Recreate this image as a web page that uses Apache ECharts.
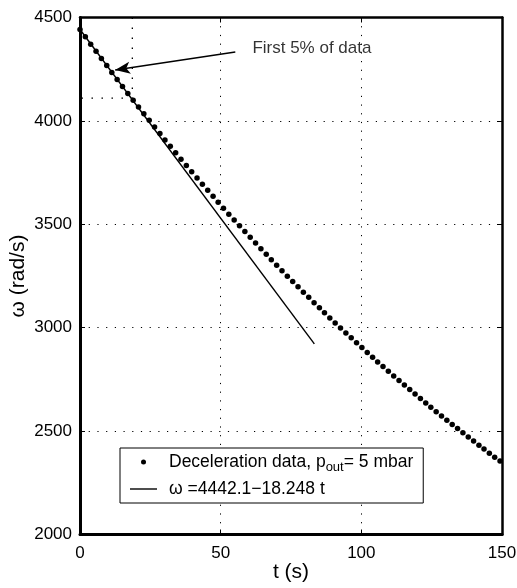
<!DOCTYPE html>
<html>
<head>
<meta charset="utf-8">
<script src="https://cdn.jsdelivr.net/npm/echarts@6/dist/echarts.min.js"></script>
<style>html,body{margin:0;padding:0;background:#fff}#c{width:517px;height:588px}</style>
</head>
<body>
<div id="c"></div>
<script>
// Deceleration data (time in s, omega in rad/s)
var times = [0,1.9,3.8,5.7,7.6,9.5,11.3,13.2,15.1,17.0,18.9,20.8,22.7,24.6,26.5,28.4,30.2,32.1,34.0,35.9,37.8,39.7,41.6,43.5,45.4,47.3,49.1,51.0,52.9,54.8,56.7,58.6,60.5,62.4,64.3,66.2,68.0,69.9,71.8,73.7,75.6,77.5,79.4,81.3,83.2,85.1,86.9,88.8,90.7,92.6,94.5,96.4,98.3,100.2,102.1,104.0,105.8,107.7,109.6,111.5,113.4,115.3,117.2,119.1,121.0,122.9,124.7,126.6,128.5,130.4,132.3,134.2,136.1,138.0,139.9,141.8,143.6,145.5,147.4,149.3];
var omega = [4442,4407,4371,4337,4302,4268,4234,4200,4166,4133,4100,4067,4035,4003,3971,3939,3908,3877,3846,3815,3784,3754,3724,3694,3665,3636,3607,3578,3549,3521,3493,3465,3437,3410,3382,3355,3329,3302,3275,3249,3223,3198,3172,3147,3121,3096,3072,3047,3023,2998,2974,2951,2927,2904,2880,2857,2834,2812,2789,2767,2745,2723,2701,2679,2658,2636,2615,2594,2573,2553,2532,2512,2492,2472,2452,2432,2413,2393,2374,2355];
// Linear fit  omega = 4442.1 - 18.248 t, drawn from t=0 to t=83.3
var fitT = [0, 83.3];
var fitW = [4442.1, 2922.0];
// "First 5%" marker lines
var markT = [18.6, 18.6, 0];
var markW = [4500, 4110, 4110];
// annotation arrow (tail, head) and text anchor
var arrowT = [55.2, 12.5];
var arrowW = [4333, 4246];
var noteT = [59.5];
var noteW = [4353];
var noteText = 'First 5% of data';
// axes
var xTicks = [0, 50, 100, 150];
var yTicks = [2000, 2500, 3000, 3500, 4000, 4500];
var nameData = 'Deceleration data, p_out = 5 mbar';
var nameFit = 'ω =4442.1\u221218.248 t';

function zip(a, b) { return a.map(function (v, i) { return [v, b[i]]; }); }
function plain(v) { return String(v); }

var FONT = '"Liberation Sans", Arial, Helvetica, sans-serif';
var gridLine = { show: true, lineStyle: { color: '#000', width: 1, type: [1.2, 7.5] } };

var chart = echarts.init(document.getElementById('c'), null, { renderer: 'canvas' });
chart.setOption({
  animation: false,
  backgroundColor: '#fff',
  textStyle: { fontFamily: FONT, color: '#000' },
  grid: { left: 80, right: 15, top: 17.5, bottom: 53.5, containLabel: false, outerBoundsMode: 'none' },
  xAxis: [{
    type: 'value', min: xTicks[0], max: xTicks[xTicks.length - 1], interval: 50,
    name: 't (s)', nameLocation: 'middle', nameGap: 27, nameMoveOverlap: false,
    nameTextStyle: { fontSize: 21, fontFamily: FONT, color: '#000', verticalAlign: 'top' },
    axisLine: { show: true, onZero: false, lineStyle: { color: '#000', width: 3 } },
    axisTick: { show: true, inside: true, length: 5, lineStyle: { color: '#000', width: 1 } },
    axisLabel: { fontSize: 17, color: '#000', fontFamily: FONT, margin: 10, formatter: plain },
    splitLine: gridLine
  }, {
    type: 'value', position: 'top', min: xTicks[0], max: xTicks[xTicks.length - 1], interval: 50,
    axisLine: { show: true, onZero: false, lineStyle: { color: '#000', width: 2.5 } },
    axisTick: { show: true, inside: true, length: 5, lineStyle: { color: '#000', width: 1 } },
    axisLabel: { show: false }, splitLine: { show: false }
  }],
  yAxis: [{
    type: 'value', min: yTicks[0], max: yTicks[yTicks.length - 1], interval: 500,
    name: 'ω (rad/s)', nameLocation: 'middle', nameGap: 51, nameMoveOverlap: false,
    nameTextStyle: { fontSize: 21, fontFamily: FONT, color: '#000' },
    axisLine: { show: true, onZero: false, lineStyle: { color: '#000', width: 3 } },
    axisTick: { show: true, inside: true, length: 5, lineStyle: { color: '#000', width: 1 } },
    axisLabel: { fontSize: 17, color: '#000', fontFamily: FONT, margin: 8, formatter: plain },
    splitLine: gridLine
  }, {
    type: 'value', position: 'right', min: yTicks[0], max: yTicks[yTicks.length - 1], interval: 500,
    axisLine: { show: true, onZero: false, lineStyle: { color: '#000', width: 2.5 } },
    axisTick: { show: true, inside: true, length: 5, lineStyle: { color: '#000', width: 1 } },
    axisLabel: { show: false }, splitLine: { show: false }
  }],
  legend: {
    orient: 'vertical', left: 120, top: 448,
    backgroundColor: '#fff', borderColor: '#000', borderWidth: 1, borderRadius: 0,
    padding: [5, 10, 5, 10], itemGap: 6, itemWidth: 27, itemHeight: 5,
    symbolKeepAspect: true,
    data: [
      { name: nameData, icon: 'circle', itemStyle: { color: '#000', opacity: 1 } },
      { name: nameFit, icon: 'path://M0,0H27V1.4H0Z', itemStyle: { color: '#000' } }
    ],
    formatter: function (n) {
      return n === nameData ? 'Deceleration data, p{sub|out}= 5 mbar' : n;
    },
    textStyle: {
      fontSize: 17.5, fontFamily: FONT, color: '#000', padding: [0, 0, 0, 7],
      rich: { sub: { fontSize: 13, fontFamily: FONT, color: '#000', padding: [11, 0, 0, 0] } }
    }
  },
  series: [{
    name: nameData, type: 'scatter', data: zip(times, omega),
    symbol: 'circle', symbolSize: 5.5, itemStyle: { color: '#000', opacity: 1 }, z: 5
  }, {
    name: nameFit, type: 'line', data: zip(fitT, fitW), showSymbol: false,
    symbol: 'none', lineStyle: { color: '#000', width: 1.4 }, z: 4
  }, {
    name: 'marker', type: 'line', data: zip(markT, markW),
    symbol: 'none', lineStyle: { color: '#000', width: 1.3, type: [1.5, 8.5] }, z: 3,
    markLine: {
      silent: true, symbol: ['none', 'arrow'], symbolSize: [9, 15],
      lineStyle: { color: '#000', width: 1.4, type: 'solid' },
      label: { show: false },
      data: [[{ coord: [arrowT[0], arrowW[0]] }, { coord: [arrowT[1], arrowW[1]] }]]
    }
  }, {
    name: 'note', type: 'scatter', data: zip(noteT, noteW), symbolSize: 0,
    label: { show: true, position: 'right', distance: 5, formatter: noteText,
      fontSize: 17, fontFamily: FONT, color: '#000' }
  }]
});
</script>
</body>
</html>
